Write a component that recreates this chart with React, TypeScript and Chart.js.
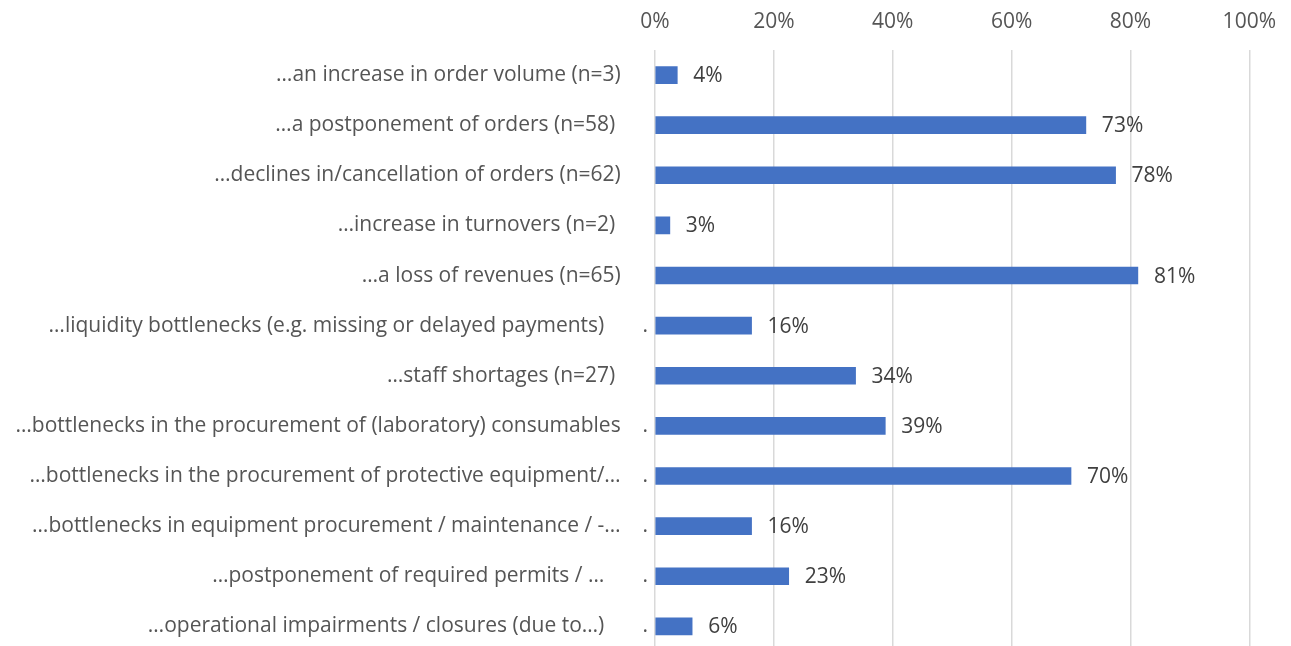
import React, { useEffect, useRef } from "react";
import { Chart, registerables } from "chart.js";

Chart.register(...registerables);

// Category labels (as they appear in the reference, including trailing spacing / stray dots)
const categories: string[] = [
  "…an increase in order volume (n=3)     ",
  "…a postponement of orders (n=58)      ",
  "…declines in/cancellation of orders (n=62)     ",
  "…increase in turnovers (n=2)      ",
  "…a loss of revenues (n=65)     ",
  "…liquidity bottlenecks (e.g. missing or delayed payments)       .",
  "…staff shortages (n=27)      ",
  "…bottlenecks in the procurement of (laboratory) consumables    .",
  "…bottlenecks in the procurement of protective equipment/…    .",
  "…bottlenecks in equipment procurement / maintenance / -…    .",
  "…postponement of required permits / …       .",
  "…operational impairments / closures (due to…)       .",
];

// Share of respondents (%)
const shares: number[] = [3.75, 72.5, 77.5, 2.5, 81.25, 16.25, 33.75, 38.75, 70, 16.25, 22.5, 6.25];

// Axis range / ticks
const xMin = 0;
const xMax = 100;
const xStep = 20;

const FONT = '"Open Sans", "Liberation Sans", sans-serif';
const TEXT = "#555555";
const VALUE_TEXT = "#404040";
const BAR = "#4472C4";
const GRID = "#D9D9D9";

const valueLabels = {
  id: "valueLabels",
  afterDatasetsDraw(chart: any) {
    const ctx = chart.ctx;
    const meta = chart.getDatasetMeta(0);
    ctx.save();
    ctx.font = `21px ${FONT}`;
    ctx.fillStyle = VALUE_TEXT;
    ctx.textAlign = "left";
    ctx.textBaseline = "middle";
    meta.data.forEach((bar: any, i: number) => {
      const v = chart.data.datasets[0].data[i] as number;
      ctx.fillText(`${Math.round(v)}%`, bar.x + 16, bar.y + 1);
    });
    ctx.restore();
  },
};

export default function App() {
  const ref = useRef<HTMLCanvasElement | null>(null);

  useEffect(() => {
    let chart: Chart | null = null;
    let cancelled = false;
    const build = () => {
      if (cancelled || !ref.current) return;
      chart = new Chart(ref.current, {
        type: "bar",
        data: {
          labels: categories,
          datasets: [
            {
              data: shares,
              backgroundColor: BAR,
              borderWidth: 0,
              barThickness: 17,
            },
          ],
        },
        options: {
          indexAxis: "y",
          responsive: false,
          animation: false,
          devicePixelRatio: 1,
          layout: { padding: { left: 0, right: 36, top: 0, bottom: 0 } },
          plugins: {
            legend: { display: false },
            tooltip: { enabled: false },
          },
          scales: {
            x: {
              position: "top",
              min: xMin,
              max: xMax,
              ticks: {
                stepSize: xStep,
                callback: (v: any) => `${v}%`,
                color: TEXT,
                font: { family: FONT, size: 21 },
                padding: 15,
                maxRotation: 0,
              },
              grid: { color: GRID, lineWidth: 1.5, drawTicks: false },
              border: { display: false },
              afterFit: (scale: any) => {
                scale.height = 50;
              },
            },
            y: {
              ticks: {
                color: TEXT,
                font: { family: FONT, size: 21 },
                padding: 7,
                autoSkip: false,
              },
              grid: { display: false, drawTicks: false },
              border: { display: false },
              afterFit: (scale: any) => {
                scale.width = 655;
              },
            },
          },
        },
        plugins: [valueLabels],
      });
    };
    const fonts: any = (document as any).fonts;
    if (fonts && fonts.load) {
      fonts.load(`21px "Open Sans"`).then(build, build);
    } else {
      build();
    }
    return () => {
      cancelled = true;
      if (chart) chart.destroy();
    };
  }, []);

  return (
    <div
      style={{
        position: "fixed",
        left: 0,
        top: 0,
        width: 1291,
        height: 646,
        overflow: "hidden",
        background: "#ffffff",
      }}
    >
      <canvas
        ref={ref}
        width={1291}
        height={671}
        style={{ display: "block", width: 1291, height: 671 }}
      />
    </div>
  );
}
